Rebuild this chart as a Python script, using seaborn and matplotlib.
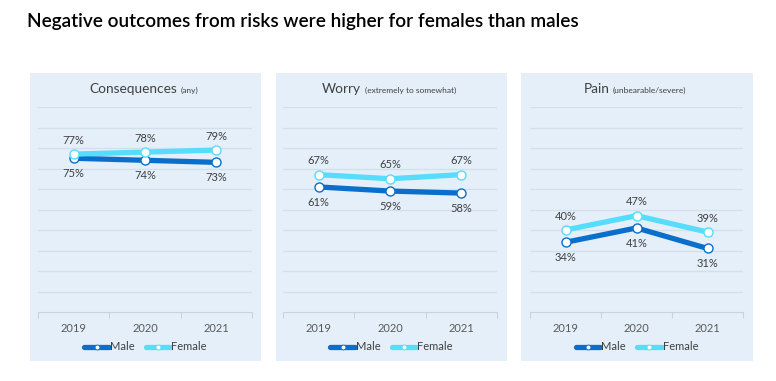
import pandas as pd
import numpy as np
from matplotlib import pyplot as plt
from matplotlib.lines import Line2D
from matplotlib.patches import Rectangle
import seaborn as sns

years = ['2019', '2020', '2021']
titles = ['Consequences', 'Worry', 'Pain']
subtitles = ['(any)', '(extremely to somewhat)', '(unbearable/severe)']
male = [[75, 74, 73], [61, 59, 58], [34, 41, 31]]
female = [[77, 78, 79], [67, 65, 67], [40, 47, 39]]

MALE_C = '#0A6FCB'
FEMALE_C = '#55DDFB'
BG = '#E4EFF9'
GRID = '#D3E0EC'
TXT = '#404040'

sns.set_theme(style='white')
plt.rcParams['font.family'] = ['Lato', 'DejaVu Sans']

W, H = 776, 381
fig = plt.figure(figsize=(W / 100, H / 100), dpi=100)


def fx(px):
    return px / W


def fy(py):
    return 1 - py / H


fig.text(fx(27), fy(21), 'Negative outcomes from risks were higher for females than males',
         fontsize=13.7, fontweight='semibold', color='black', va='center', ha='left')

# panel background x, axes x, title split x
panels = [(30, 261, 38, 252, 177, 181),
          (276, 507, 283, 497, 361, 365),
          (521, 753, 530, 743, 610, 613)]

for i, (bx0, bx1, ax0, ax1, tx0, tx1) in enumerate(panels):
    fig.patches.append(Rectangle((fx(bx0), fy(361)), fx(bx1 - bx0), (361 - 73) / H,
                                 transform=fig.transFigure, facecolor=BG, edgecolor='none', zorder=-10))
    ax = fig.add_axes([fx(ax0), fy(312), fx(ax1 - ax0), (312 - 107) / H])
    ax.set_facecolor('none')

    df = pd.DataFrame({
        'Year': years * 2,
        'Value': male[i] + female[i],
        'Sex': ['Male'] * 3 + ['Female'] * 3,
    })
    sns.lineplot(data=df, x='Year', y='Value', hue='Sex', ax=ax,
                 palette={'Male': MALE_C, 'Female': FEMALE_C},
                 linewidth=3.8, marker='o', markersize=6.5,
                 markerfacecolor='white', markeredgewidth=1.0, legend=False)
    for ln, c in zip(ax.lines, [MALE_C, FEMALE_C]):
        ln.set_markeredgecolor(c)

    for j, y in enumerate(years):
        ax.annotate(f'{female[i][j]}%', (j, female[i][j]), xytext=(0, 10), textcoords='offset points',
                    ha='center', va='center', fontsize=8, color=TXT)
        ax.annotate(f'{male[i][j]}%', (j, male[i][j]), xytext=(0, -11), textcoords='offset points',
                    ha='center', va='center', fontsize=8, color=TXT)

    ax.set_ylim(0, 100)
    ax.set_xlim(-0.5, 2.5)
    ax.set_yticks(np.arange(10, 101, 10))
    ax.yaxis.grid(True, color=GRID, linewidth=1)
    ax.set_yticklabels([])
    ax.tick_params(axis='y', length=0)
    ax.set_xticks([0, 1, 2])
    ax.set_xticklabels(years)
    ax.set_xticks([-0.5, 0.5, 1.5, 2.5], minor=True)
    ax.tick_params(axis='x', which='major', length=0, pad=8, labelsize=8, labelcolor='#595959')
    ax.tick_params(axis='x', which='minor', length=4, width=0.8, color='#C8D3DE', bottom=True)
    ax.set_xlabel('')
    ax.set_ylabel('')
    for s in ['top', 'right', 'left']:
        ax.spines[s].set_visible(False)
    ax.spines['bottom'].set_color('#C8D3DE')
    ax.spines['bottom'].set_linewidth(0.8)

    fig.text(fx(tx0), fy(89), titles[i], ha='right', va='center', fontsize=9.8, color=TXT)
    fig.text(fx(tx1), fy(90), subtitles[i], ha='left', va='center', fontsize=6, color=TXT)

    handles = [Line2D([], [], color=MALE_C, lw=3.8, marker='o', markersize=3.5,
                      markerfacecolor='white', markeredgecolor=MALE_C, markeredgewidth=0.6),
               Line2D([], [], color=FEMALE_C, lw=3.8, marker='o', markersize=3.5,
                      markerfacecolor='white', markeredgecolor=FEMALE_C, markeredgewidth=0.6)]
    fig.legend(handles, ['Male', 'Female'], loc='center',
               bbox_to_anchor=(fx((bx0 + bx1) / 2), fy(347)), ncol=2, frameon=False,
               fontsize=8, handlelength=2.2, handletextpad=0.1, columnspacing=1.0,
               labelcolor=TXT)

fig.savefig('out.png', dpi=100, facecolor='white')
